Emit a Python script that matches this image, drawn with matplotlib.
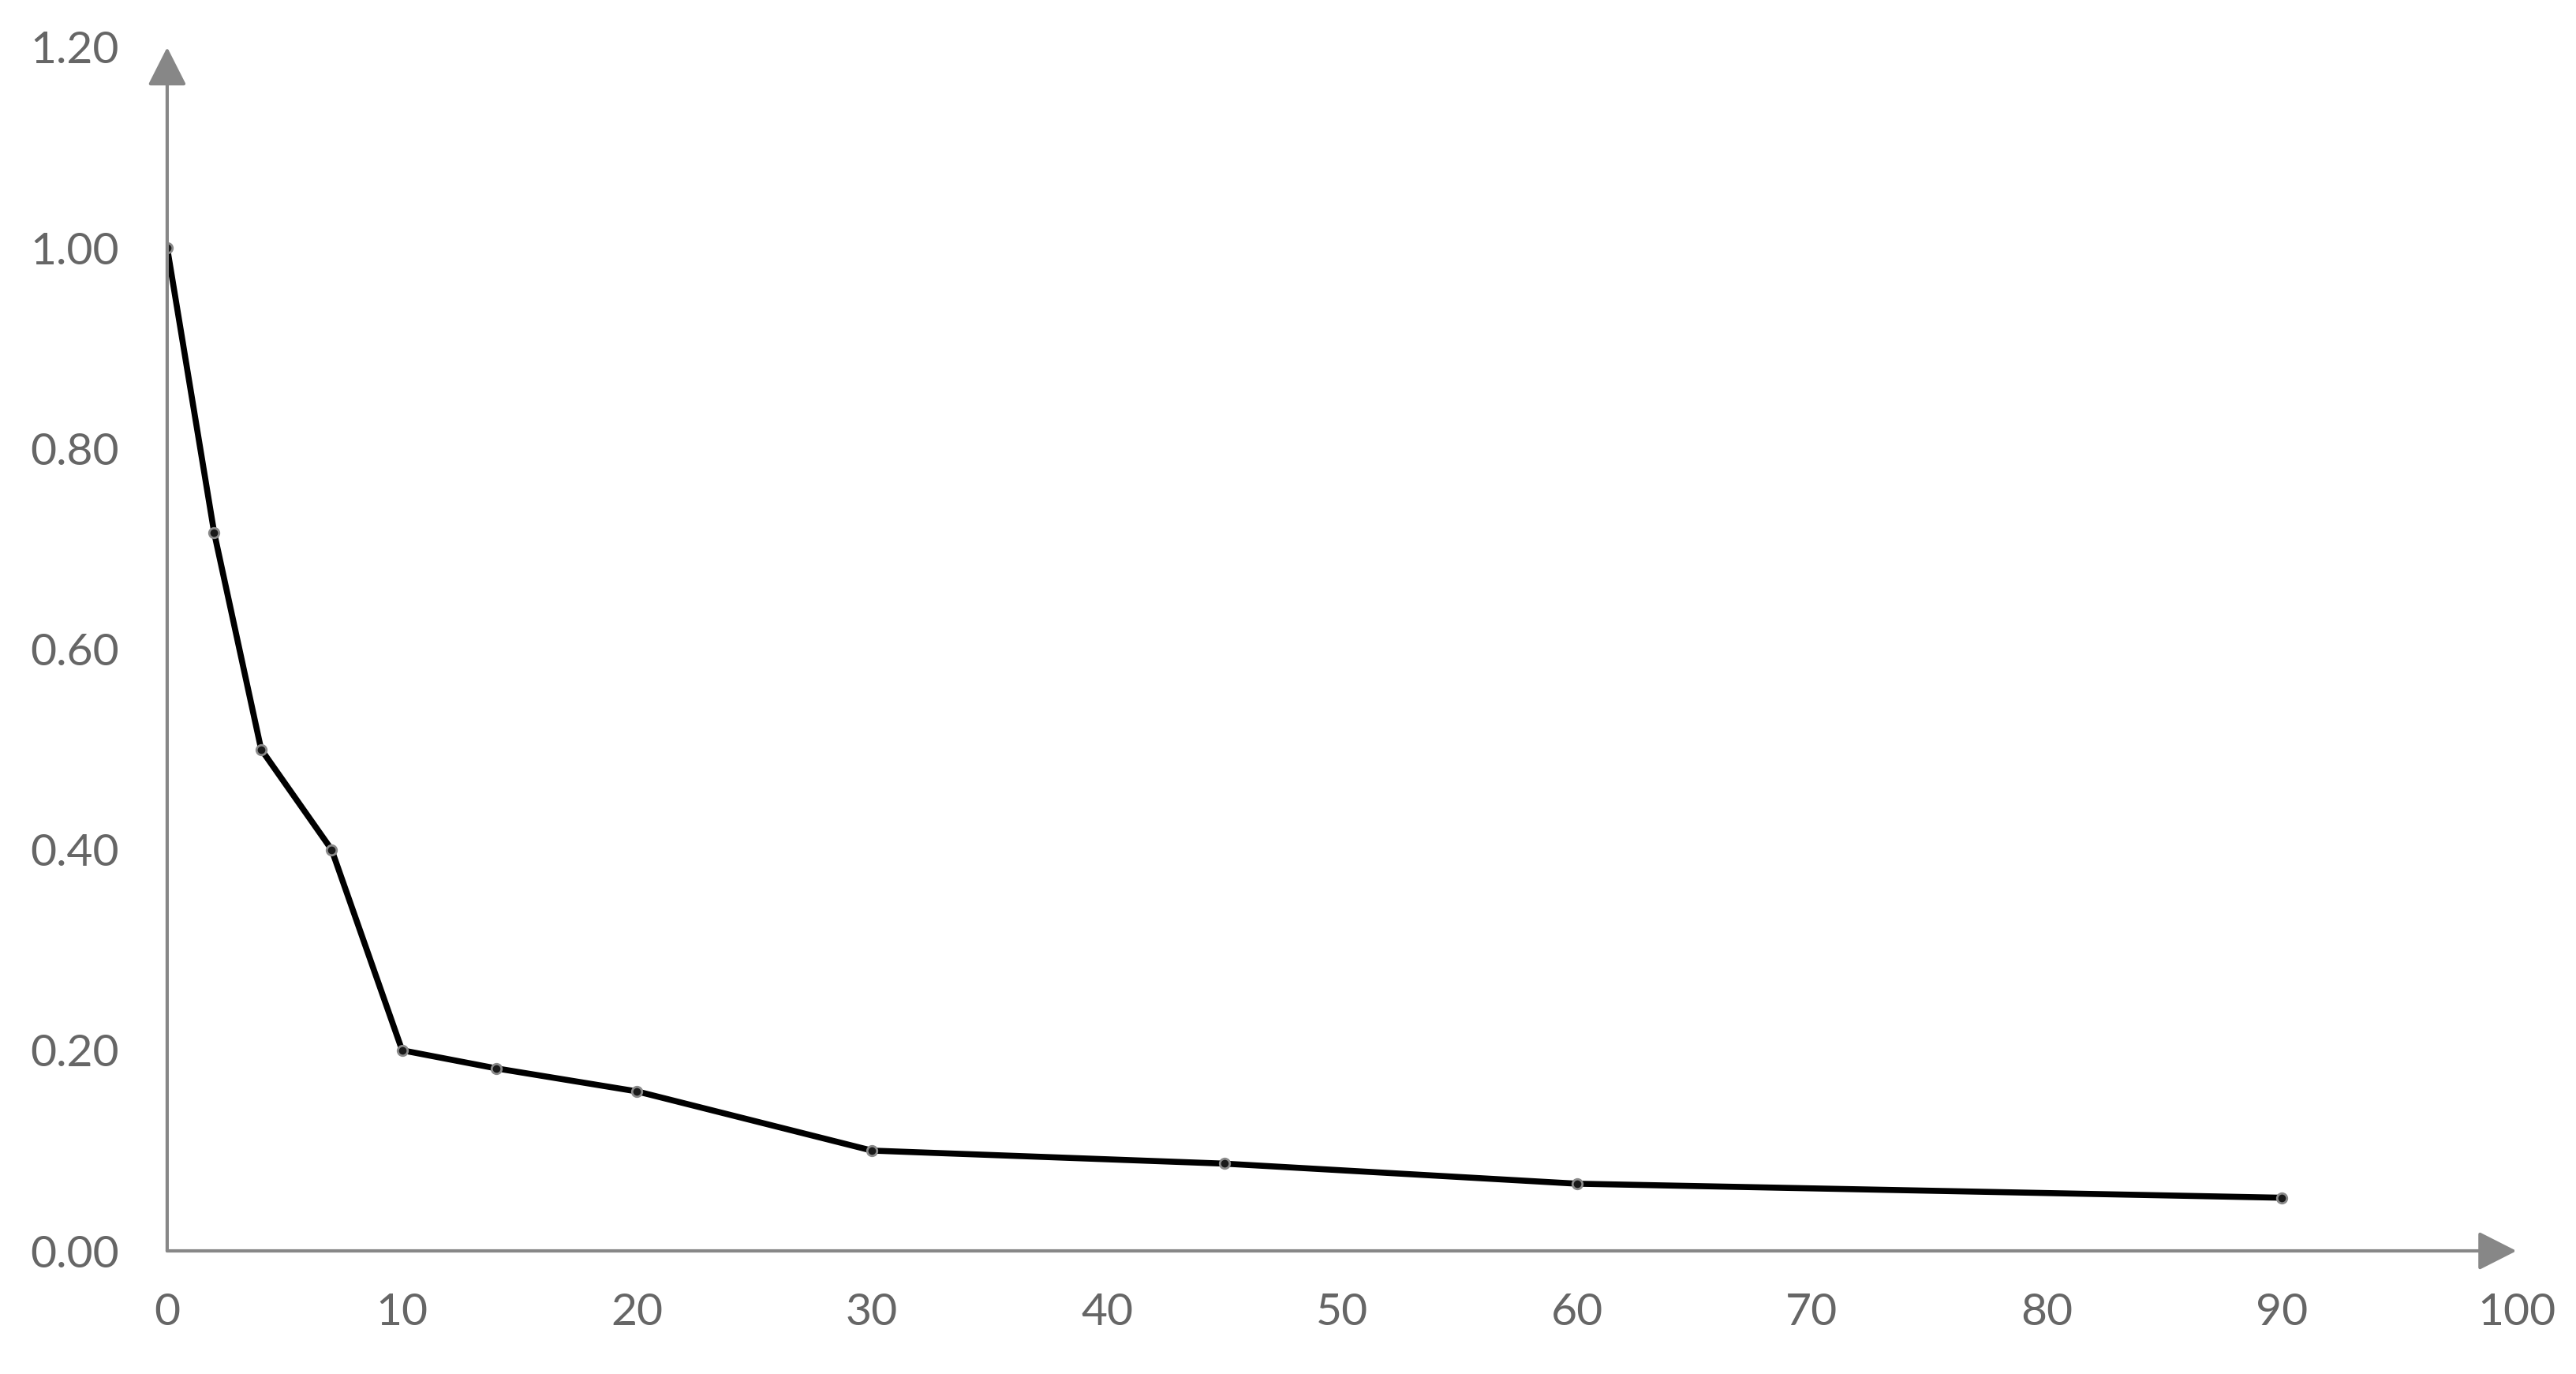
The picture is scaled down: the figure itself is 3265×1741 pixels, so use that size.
from matplotlib import pyplot as plt
import numpy as np

# days vs. retained fraction
days = [0, 2, 4, 7, 10, 14, 20, 30, 45, 60, 90]
retained = [1.00, 0.716, 0.50, 0.40, 0.20, 0.182, 0.159, 0.10, 0.087, 0.067, 0.053]

x_ticks = np.arange(0, 101, 10)
y_ticks = np.arange(0, 1.21, 0.2)

text_grey = '#666666'
axis_grey = '#878787'

plt.rcParams['font.family'] = ['Lato', 'DejaVu Sans']

fig = plt.figure(figsize=(32.65, 17.41), dpi=100)
ax = fig.add_axes([0.0649, 0.0896, 0.912, 0.876])

ax.plot(days, retained, color='black', lw=5.5, zorder=3,
        marker='o', markersize=9, markerfacecolor='#1a1a1a',
        markeredgecolor='#8a8a8a', markeredgewidth=2)

ax.set_xlim(0, 100)
ax.set_ylim(0, 1.2)
ax.set_xticks(x_ticks)
ax.set_yticks(y_ticks)
ax.set_yticklabels([f'{v:.2f}' for v in y_ticks])
ax.tick_params(axis='both', length=0, labelsize=41, labelcolor=text_grey)
ax.tick_params(axis='x', pad=38)
ax.tick_params(axis='y', pad=44)

for s in ax.spines.values():
    s.set_visible(False)

# axis lines with arrow heads
arrow = dict(arrowstyle='-|>,head_length=0.75,head_width=0.38', color=axis_grey,
             lw=3, shrinkA=0, shrinkB=0, mutation_scale=40)
ax.annotate('', xy=(100, 0), xytext=(0, 0), arrowprops=arrow, annotation_clip=False)
ax.annotate('', xy=(0, 1.2), xytext=(0, 0), arrowprops=arrow, annotation_clip=False)

fig.savefig('out.png', dpi=100, facecolor='white')
